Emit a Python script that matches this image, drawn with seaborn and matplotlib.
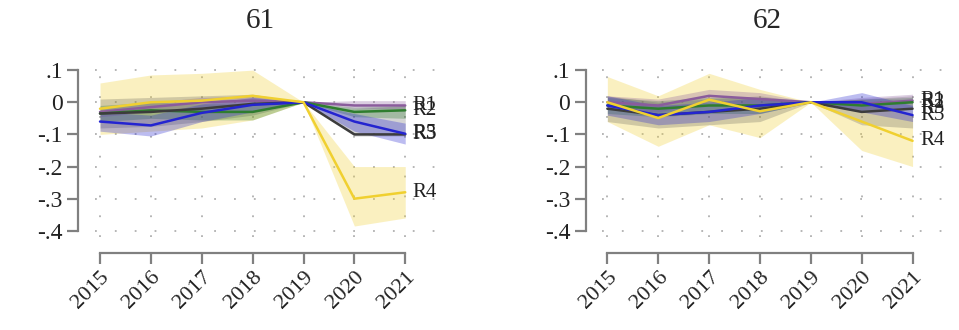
import numpy as np
import pandas as pd
import matplotlib
matplotlib.use("Agg")
import matplotlib.pyplot as plt
import seaborn as sns

years = [2015, 2016, 2017, 2018, 2019, 2020, 2021]
series = ["R1", "R2", "R3", "R5", "R4"]
colors = {"R1": "#8a5c9c", "R2": "#2f7d2f", "R3": "#3c3c3c", "R5": "#2424d0", "R4": "#f0d030"}

# panel 61: coefficient, lower, upper
p61_coef = {
    "R1": [-0.030, -0.015, 0.000, 0.005, 0, -0.010, -0.010],
    "R2": [-0.035, -0.025, -0.030, -0.030, 0, -0.030, -0.025],
    "R3": [-0.035, -0.030, -0.020, -0.005, 0, -0.100, -0.100],
    "R5": [-0.060, -0.072, -0.033, -0.008, 0, -0.060, -0.098],
    "R4": [-0.020, 0.000, 0.005, 0.020, 0, -0.300, -0.280],
}
p61_lo = {
    "R1": [-0.045, -0.030, -0.015, -0.010, 0, -0.020, -0.020],
    "R2": [-0.060, -0.050, -0.055, -0.055, 0, -0.045, -0.050],
    "R3": [-0.080, -0.075, -0.060, -0.040, 0, -0.105, -0.105],
    "R5": [-0.090, -0.105, -0.060, -0.030, 0, -0.090, -0.130],
    "R4": [-0.100, -0.090, -0.080, -0.055, 0, -0.385, -0.360],
}
p61_hi = {
    "R1": [-0.015, 0.000, 0.015, 0.020, 0, 0.005, 0.005],
    "R2": [-0.010, 0.000, -0.005, -0.005, 0, -0.015, -0.010],
    "R3": [0.010, 0.015, 0.020, 0.025, 0, -0.020, -0.010],
    "R5": [-0.030, -0.040, -0.005, 0.015, 0, -0.035, -0.065],
    "R4": [0.060, 0.085, 0.090, 0.100, 0, -0.200, -0.200],
}

# panel 62
p62_coef = {
    "R1": [0.000, -0.010, 0.020, 0.010, 0, -0.005, 0.005],
    "R2": [-0.010, -0.020, -0.010, -0.010, 0, -0.010, 0.000],
    "R3": [-0.020, -0.040, -0.030, -0.020, 0, -0.030, -0.020],
    "R5": [-0.010, -0.040, -0.030, -0.010, 0, 0.000, -0.040],
    "R4": [0.000, -0.049, 0.008, -0.028, 0, -0.060, -0.120],
}
p62_lo = {
    "R1": [-0.020, -0.030, 0.000, -0.010, 0, -0.025, -0.015],
    "R2": [-0.035, -0.045, -0.035, -0.035, 0, -0.030, -0.015],
    "R3": [-0.060, -0.080, -0.070, -0.060, 0, -0.070, -0.080],
    "R5": [-0.040, -0.070, -0.060, -0.035, 0, -0.030, -0.060],
    "R4": [-0.060, -0.137, -0.070, -0.110, 0, -0.150, -0.200],
}
p62_hi = {
    "R1": [0.020, 0.010, 0.040, 0.030, 0, 0.015, 0.025],
    "R2": [0.015, 0.005, 0.015, 0.015, 0, 0.010, 0.015],
    "R3": [0.020, 0.000, 0.010, 0.020, 0, 0.010, 0.020],
    "R5": [0.020, -0.010, 0.000, 0.015, 0, 0.030, -0.010],
    "R4": [0.080, 0.020, 0.090, 0.040, 0, 0.010, -0.040],
}

panels = [("61", p61_coef, p61_lo, p61_hi), ("62", p62_coef, p62_lo, p62_hi)]
yticks = [0.1, 0, -0.1, -0.2, -0.3, -0.4]
ytick_labels = [".1", "0", "-.1", "-.2", "-.3", "-.4"]

sns.set_theme(style="white")
plt.rcParams["font.family"] = ["Liberation Serif", "DejaVu Serif"]

fig = plt.figure(figsize=(9.59, 3.30), dpi=100)
lefts = [0.099, 0.628]

for (title, coef, lo, hi), left in zip(panels, lefts):
    ax = fig.add_axes([left, 0.281, 0.366, 0.526])

    # spines first: moving a spine resets the ticks
    for side in ["top", "right"]:
        ax.spines[side].set_visible(False)
    ax.spines["left"].set_position(("outward", 12))
    ax.spines["bottom"].set_position(("outward", 11))

    rows = []
    for s in series:
        for y, v in zip(years, coef[s]):
            rows.append({"year": y, "coef": v, "series": s})
    df = pd.DataFrame(rows)

    # confidence bands
    for s in ["R4", "R3", "R2", "R1", "R5"]:
        a = 0.22 if s == "R3" else 0.3
        ax.fill_between(years, lo[s], hi[s], color=colors[s], alpha=a,
                        linewidth=0, zorder=1)

    sns.lineplot(data=df, x="year", y="coef", hue="series", hue_order=series,
                 palette=colors, linewidth=1.8, legend=False, ax=ax, zorder=3)

    # series labels at the last year
    for s in series:
        ax.text(2021.15, coef[s][-1], s, fontsize=15, va="center", ha="left",
                color="#222222", zorder=4)

    ax.set_xlim(2014.9, 2021.8)
    ax.set_ylim(-0.42, 0.12)
    ax.set_xticks(years)
    ax.set_xticklabels([str(y) for y in years], rotation=45, ha="right",
                       rotation_mode="anchor", fontsize=16)
    ax.set_yticks(yticks)
    ax.set_yticklabels(ytick_labels, fontsize=17)
    ax.set_xlabel("")
    ax.set_ylabel("")
    ax.set_title(title, fontsize=21, x=0.47, pad=26)

    ax.grid(True, color="#b0b0b0", linestyle=(0, (1, 10)), linewidth=1.3)
    ax.set_axisbelow(True)

    ax.spines["left"].set_bounds(-0.4, 0.1)
    ax.spines["bottom"].set_bounds(2015, 2021)
    for side in ["left", "bottom"]:
        ax.spines[side].set_color("#808080")
        ax.spines[side].set_linewidth(1.6)
    ax.tick_params(axis="both", which="major", length=8, width=1.6,
                   color="#808080", direction="out", left=True, bottom=True,
                   labelcolor="#222222", pad=3)

fig.savefig("out.png", dpi=100)
